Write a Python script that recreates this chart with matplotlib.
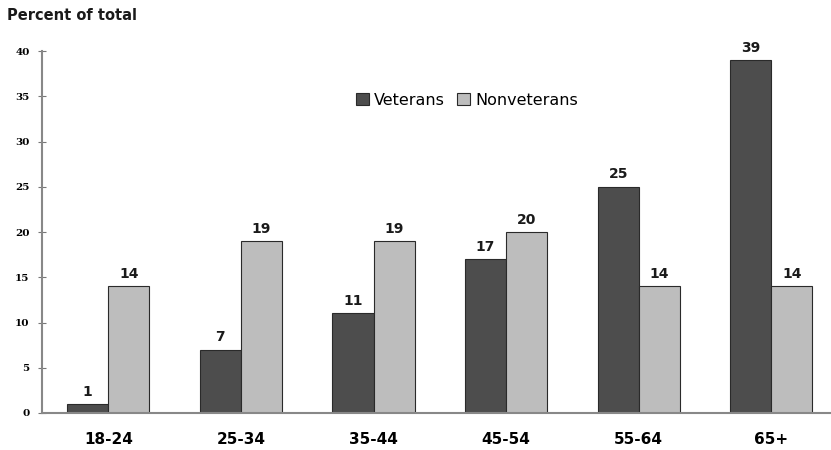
import matplotlib.pyplot as plt
import numpy as np

categories = ['18-24', '25-34', '35-44', '45-54', '55-64', '65+']
veterans = [1, 7, 11, 17, 25, 39]
nonveterans = [14, 19, 19, 20, 14, 14]
yticks = [0, 5, 10, 15, 20, 25, 30, 35, 40]

fig = plt.figure(figsize=(8.31, 4.5), dpi=100)
ax = fig.add_axes([42 / 831, 1 - 413 / 450, 1 - 42 / 831, (413 - 51) / 450])

x = np.arange(len(categories))
w = 0.31
b1 = ax.bar(x - w / 2, veterans, w, color='#4d4d4d', edgecolor='#2a2a2a', linewidth=0.8, label='Veterans')
b2 = ax.bar(x + w / 2, nonveterans, w, color='#bdbdbd', edgecolor='#2a2a2a', linewidth=0.8, label='Nonveterans')

# value labels above each bar
for bars in (b1, b2):
    for r in bars:
        ax.text(r.get_x() + r.get_width() / 2, r.get_height() + 0.6, f'{int(r.get_height())}',
                ha='center', va='bottom', fontsize=10, fontweight='bold', color='#1a1a1a')

ax.set_xlim(-0.5, 5.45)
ax.set_ylim(0, 40)
ax.set_yticks(yticks)
ax.set_yticklabels([str(t) for t in yticks], fontsize=7.5, fontweight='bold', family='DejaVu Serif')
ax.set_xticks(x)
ax.set_xticklabels(categories, fontsize=11, fontweight='bold')
ax.tick_params(axis='x', length=0, pad=14)
ax.tick_params(axis='y', direction='inout', length=6, color='#777777', pad=6)

for s in ('top', 'right'):
    ax.spines[s].set_visible(False)
ax.spines['left'].set_color('#888888')
ax.spines['bottom'].set_color('#888888')
ax.spines['left'].set_linewidth(1.5)
ax.spines['bottom'].set_linewidth(1.5)

ax.legend(loc='upper left', bbox_to_anchor=(0.38, 0.925), ncol=2, frameon=False,
          fontsize=11.5, handlelength=0.8, handleheight=0.8, handletextpad=0.3, columnspacing=0.8)

fig.text(7 / 831, 1 - 15 / 450, 'Percent of total', fontsize=10.5, fontweight='bold',
         va='center', ha='left', color='#1a1a1a')

fig.savefig('out.png', dpi=100)
